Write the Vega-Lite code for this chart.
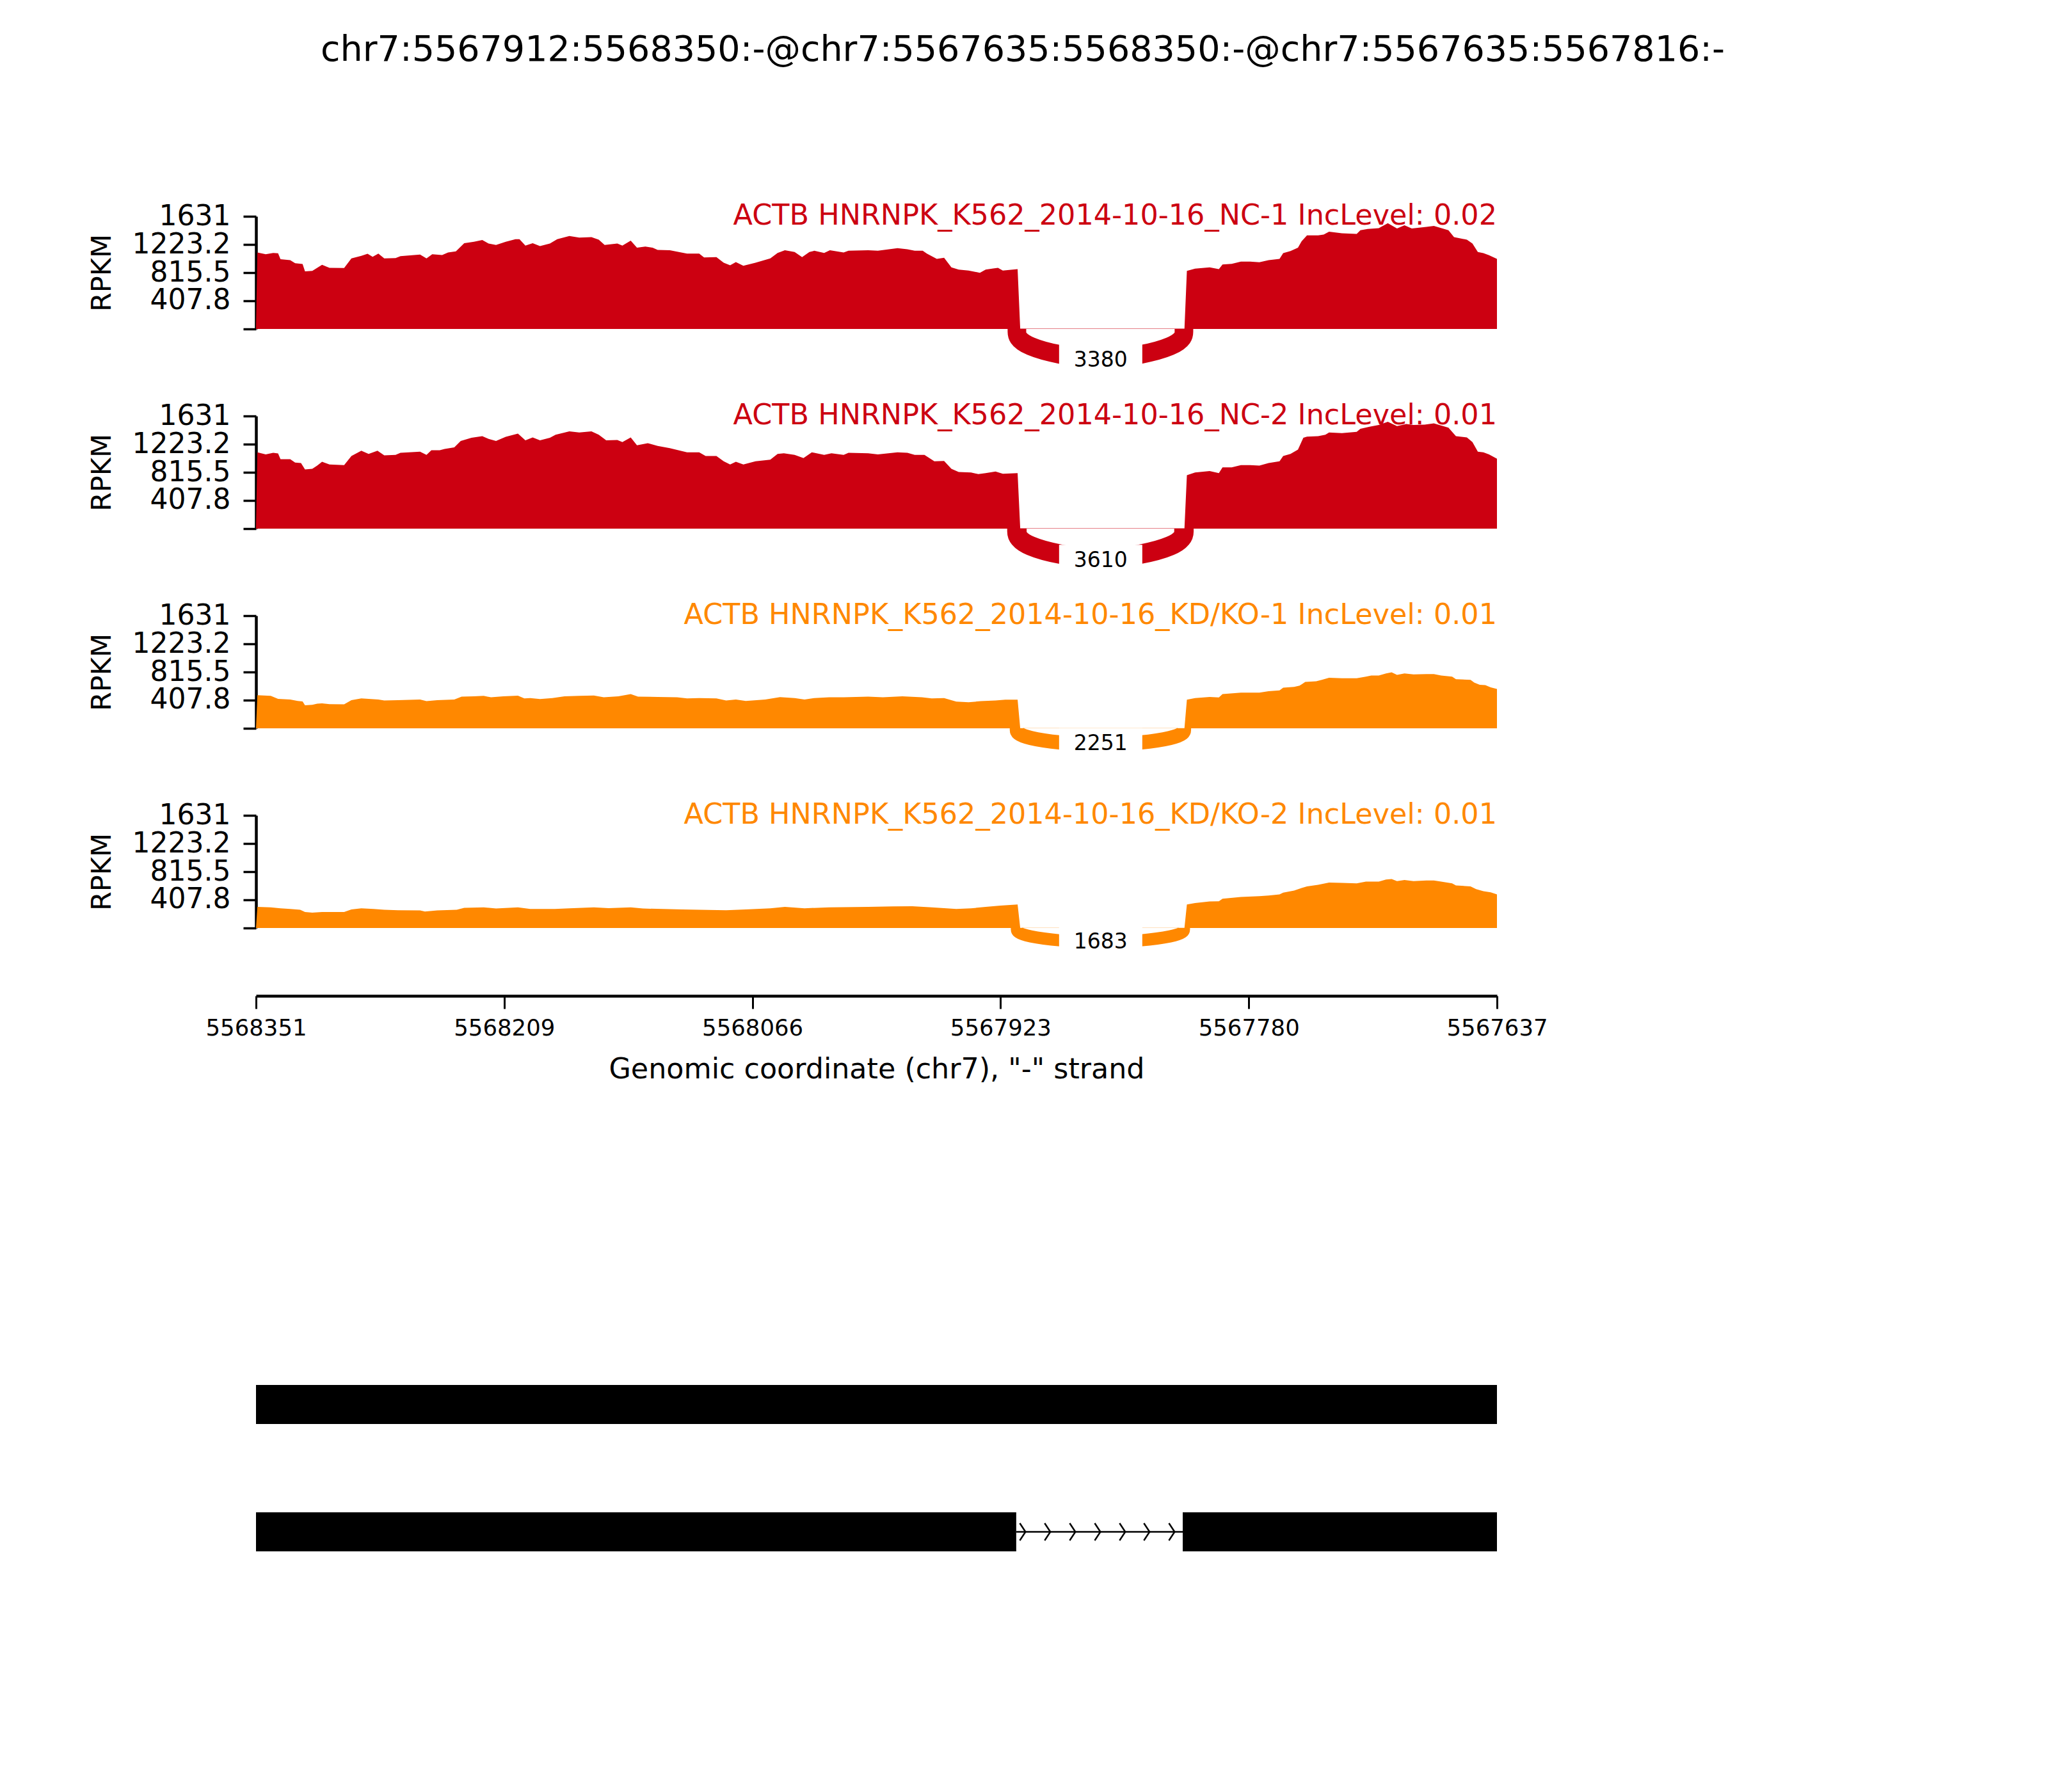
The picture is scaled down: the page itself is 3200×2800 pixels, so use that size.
{
 "$schema": "https://vega.github.io/schema/vega-lite/v6.json",
 "padding": {"left": 138, "top": 51, "right": 5, "bottom": 5},
 "background": "white",
 "title": {"text": "chr7:5567912:5568350:-@chr7:5567635:5568350:-@chr7:5567635:5567816:-", "fontSize": 55.5, "fontWeight": "normal", "color": "black", "anchor": "middle", "dx": 320, "offset": 208},
 "config": {"font": "DejaVu Sans", "view": {"stroke": null}, "axis": {"grid": false}},
 "spacing": 136,
 "bounds": "flush",
 "resolve": {"scale": {"x": "independent", "y": "independent", "strokeWidth": "independent"}},
 "datasets": {
  "cov": [
   {"s":"NC-1","pos":5568351.0,"v":0},{"s":"NC-1","pos":5568350.2,"v":1108},{"s":"NC-1","pos":5568345.4,"v":1083},{"s":"NC-1","pos":5568341.1,"v":1101},{"s":"NC-1","pos":5568338.3,"v":1095},{"s":"NC-1","pos":5568336.9,"v":1009},{"s":"NC-1","pos":5568331.3,"v":996},{"s":"NC-1","pos":5568328.5,"v":953},{"s":"NC-1","pos":5568324.2,"v":940},{"s":"NC-1","pos":5568322.8,"v":835},{"s":"NC-1","pos":5568318.6,"v":841},{"s":"NC-1","pos":5568315.8,"v":885},{"s":"NC-1","pos":5568313.0,"v":928},{"s":"NC-1","pos":5568308.7,"v":885},{"s":"NC-1","pos":5568300.3,"v":882},{"s":"NC-1","pos":5568296.1,"v":1021},{"s":"NC-1","pos":5568290.4,"v":1058},{"s":"NC-1","pos":5568286.8,"v":1089},{"s":"NC-1","pos":5568283.9,"v":1046},{"s":"NC-1","pos":5568280.6,"v":1092},{"s":"NC-1","pos":5568277.2,"v":1021},{"s":"NC-1","pos":5568270.7,"v":1027},{"s":"NC-1","pos":5568267.9,"v":1055},{"s":"NC-1","pos":5568256.6,"v":1077},{"s":"NC-1","pos":5568252.9,"v":1021},{"s":"NC-1","pos":5568249.6,"v":1083},{"s":"NC-1","pos":5568243.9,"v":1071},{"s":"NC-1","pos":5568240.5,"v":1108},{"s":"NC-1","pos":5568236.0,"v":1123},{"s":"NC-1","pos":5568231.2,"v":1241},{"s":"NC-1","pos":5568225.6,"v":1262},{"s":"NC-1","pos":5568220.8,"v":1287},{"s":"NC-1","pos":5568217.2,"v":1238},{"s":"NC-1","pos":5568212.9,"v":1216},{"s":"NC-1","pos":5568207.3,"v":1262},{"s":"NC-1","pos":5568201.7,"v":1300},{"s":"NC-1","pos":5568199.4,"v":1300},{"s":"NC-1","pos":5568196.0,"v":1207},{"s":"NC-1","pos":5568191.8,"v":1241},{"s":"NC-1","pos":5568187.6,"v":1200},{"s":"NC-1","pos":5568181.9,"v":1238},{"s":"NC-1","pos":5568177.7,"v":1300},{"s":"NC-1","pos":5568170.7,"v":1346},{"s":"NC-1","pos":5568165.0,"v":1324},{"s":"NC-1","pos":5568158.0,"v":1330},{"s":"NC-1","pos":5568153.8,"v":1293},{"s":"NC-1","pos":5568150.4,"v":1216},{"s":"NC-1","pos":5568143.1,"v":1238},{"s":"NC-1","pos":5568140.2,"v":1207},{"s":"NC-1","pos":5568135.4,"v":1278},{"s":"NC-1","pos":5568131.8,"v":1176},{"s":"NC-1","pos":5568127.0,"v":1194},{"s":"NC-1","pos":5568122.8,"v":1176},{"s":"NC-1","pos":5568119.9,"v":1145},{"s":"NC-1","pos":5568112.9,"v":1139},{"s":"NC-1","pos":5568103.0,"v":1092},{"s":"NC-1","pos":5568096.0,"v":1092},{"s":"NC-1","pos":5568093.2,"v":1036},{"s":"NC-1","pos":5568086.1,"v":1040},{"s":"NC-1","pos":5568081.9,"v":959},{"s":"NC-1","pos":5568078.2,"v":922},{"s":"NC-1","pos":5568074.9,"v":968},{"s":"NC-1","pos":5568070.6,"v":916},{"s":"NC-1","pos":5568063.6,"v":959},{"s":"NC-1","pos":5568055.1,"v":1021},{"s":"NC-1","pos":5568050.9,"v":1101},{"s":"NC-1","pos":5568046.7,"v":1139},{"s":"NC-1","pos":5568041.1,"v":1114},{"s":"NC-1","pos":5568036.8,"v":1040},{"s":"NC-1","pos":5568032.6,"v":1114},{"s":"NC-1","pos":5568029.8,"v":1132},{"s":"NC-1","pos":5568024.1,"v":1101},{"s":"NC-1","pos":5568020.8,"v":1139},{"s":"NC-1","pos":5568012.9,"v":1108},{"s":"NC-1","pos":5568010.1,"v":1132},{"s":"NC-1","pos":5567998.8,"v":1139},{"s":"NC-1","pos":5567993.2,"v":1132},{"s":"NC-1","pos":5567981.9,"v":1170},{"s":"NC-1","pos":5567976.2,"v":1154},{"s":"NC-1","pos":5567972.0,"v":1132},{"s":"NC-1","pos":5567967.4,"v":1132},{"s":"NC-1","pos":5567965.0,"v":1092},{"s":"NC-1","pos":5567959.3,"v":1015},{"s":"NC-1","pos":5567955.1,"v":1030},{"s":"NC-1","pos":5567950.9,"v":891},{"s":"NC-1","pos":5567946.7,"v":860},{"s":"NC-1","pos":5567941.0,"v":845},{"s":"NC-1","pos":5567934.5,"v":814},{"s":"NC-1","pos":5567931.2,"v":860},{"s":"NC-1","pos":5567926.9,"v":876},{"s":"NC-1","pos":5567924.1,"v":885},{"s":"NC-1","pos":5567921.3,"v":845},{"s":"NC-1","pos":5567912.8,"v":866},{"s":"NC-1","pos":5567911.3,"v":4},{"s":"NC-1","pos":5567866.0,"v":4},{"s":"NC-1","pos":5567816.8,"v":4},{"s":"NC-1","pos":5567815.4,"v":842},{"s":"NC-1","pos":5567810.7,"v":873},{"s":"NC-1","pos":5567802.3,"v":891},{"s":"NC-1","pos":5567797.0,"v":866},{"s":"NC-1","pos":5567794.9,"v":934},{"s":"NC-1","pos":5567789.6,"v":944},{"s":"NC-1","pos":5567784.3,"v":975},{"s":"NC-1","pos":5567779.0,"v":975},{"s":"NC-1","pos":5567773.7,"v":965},{"s":"NC-1","pos":5567768.4,"v":996},{"s":"NC-1","pos":5567762.1,"v":1015},{"s":"NC-1","pos":5567760.0,"v":1098},{"s":"NC-1","pos":5567755.8,"v":1129},{"s":"NC-1","pos":5567751.5,"v":1176},{"s":"NC-1","pos":5567749.4,"v":1269},{"s":"NC-1","pos":5567746.3,"v":1355},{"s":"NC-1","pos":5567739.9,"v":1355},{"s":"NC-1","pos":5567736.7,"v":1368},{"s":"NC-1","pos":5567733.6,"v":1408},{"s":"NC-1","pos":5567726.2,"v":1386},{"s":"NC-1","pos":5567717.7,"v":1377},{"s":"NC-1","pos":5567715.6,"v":1429},{"s":"NC-1","pos":5567711.4,"v":1448},{"s":"NC-1","pos":5567705.0,"v":1460},{"s":"NC-1","pos":5567699.8,"v":1532},{"s":"NC-1","pos":5567694.5,"v":1454},{"s":"NC-1","pos":5567690.2,"v":1501},{"s":"NC-1","pos":5567686.0,"v":1454},{"s":"NC-1","pos":5567677.6,"v":1479},{"s":"NC-1","pos":5567673.3,"v":1491},{"s":"NC-1","pos":5567664.9,"v":1429},{"s":"NC-1","pos":5567661.7,"v":1330},{"s":"NC-1","pos":5567654.3,"v":1293},{"s":"NC-1","pos":5567651.1,"v":1238},{"s":"NC-1","pos":5567648.0,"v":1114},{"s":"NC-1","pos":5567644.8,"v":1098},{"s":"NC-1","pos":5567641.6,"v":1067},{"s":"NC-1","pos":5567637.0,"v":1015},

   {"s":"NC-2","pos":5568351.0,"v":0},{"s":"NC-2","pos":5568350.2,"v":1105},{"s":"NC-2","pos":5568345.4,"v":1074},{"s":"NC-2","pos":5568341.1,"v":1098},{"s":"NC-2","pos":5568338.3,"v":1090},{"s":"NC-2","pos":5568336.9,"v":1006},{"s":"NC-2","pos":5568331.3,"v":1006},{"s":"NC-2","pos":5568328.5,"v":956},{"s":"NC-2","pos":5568325.1,"v":950},{"s":"NC-2","pos":5568322.8,"v":857},{"s":"NC-2","pos":5568318.6,"v":866},{"s":"NC-2","pos":5568315.8,"v":913},{"s":"NC-2","pos":5568313.0,"v":968},{"s":"NC-2","pos":5568308.7,"v":928},{"s":"NC-2","pos":5568300.3,"v":919},{"s":"NC-2","pos":5568296.1,"v":1052},{"s":"NC-2","pos":5568290.4,"v":1129},{"s":"NC-2","pos":5568286.2,"v":1083},{"s":"NC-2","pos":5568281.1,"v":1129},{"s":"NC-2","pos":5568277.2,"v":1061},{"s":"NC-2","pos":5568270.7,"v":1067},{"s":"NC-2","pos":5568267.9,"v":1098},{"s":"NC-2","pos":5568256.6,"v":1114},{"s":"NC-2","pos":5568252.9,"v":1067},{"s":"NC-2","pos":5568250.1,"v":1135},{"s":"NC-2","pos":5568245.3,"v":1135},{"s":"NC-2","pos":5568242.5,"v":1154},{"s":"NC-2","pos":5568236.9,"v":1176},{"s":"NC-2","pos":5568233.2,"v":1269},{"s":"NC-2","pos":5568227.0,"v":1315},{"s":"NC-2","pos":5568220.8,"v":1340},{"s":"NC-2","pos":5568217.2,"v":1300},{"s":"NC-2","pos":5568212.9,"v":1269},{"s":"NC-2","pos":5568207.3,"v":1330},{"s":"NC-2","pos":5568200.3,"v":1377},{"s":"NC-2","pos":5568196.0,"v":1278},{"s":"NC-2","pos":5568191.8,"v":1321},{"s":"NC-2","pos":5568187.6,"v":1278},{"s":"NC-2","pos":5568181.9,"v":1315},{"s":"NC-2","pos":5568178.6,"v":1361},{"s":"NC-2","pos":5568170.7,"v":1408},{"s":"NC-2","pos":5568165.0,"v":1392},{"s":"NC-2","pos":5568158.0,"v":1408},{"s":"NC-2","pos":5568153.8,"v":1361},{"s":"NC-2","pos":5568149.5,"v":1278},{"s":"NC-2","pos":5568143.1,"v":1284},{"s":"NC-2","pos":5568140.2,"v":1253},{"s":"NC-2","pos":5568135.4,"v":1321},{"s":"NC-2","pos":5568131.8,"v":1207},{"s":"NC-2","pos":5568125.6,"v":1238},{"s":"NC-2","pos":5568119.9,"v":1197},{"s":"NC-2","pos":5568112.9,"v":1166},{"s":"NC-2","pos":5568103.0,"v":1105},{"s":"NC-2","pos":5568096.0,"v":1105},{"s":"NC-2","pos":5568092.3,"v":1052},{"s":"NC-2","pos":5568086.1,"v":1052},{"s":"NC-2","pos":5568081.9,"v":975},{"s":"NC-2","pos":5568078.2,"v":928},{"s":"NC-2","pos":5568074.9,"v":968},{"s":"NC-2","pos":5568070.6,"v":928},{"s":"NC-2","pos":5568063.6,"v":975},{"s":"NC-2","pos":5568055.1,"v":999},{"s":"NC-2","pos":5568050.9,"v":1083},{"s":"NC-2","pos":5568047.3,"v":1092},{"s":"NC-2","pos":5568041.1,"v":1067},{"s":"NC-2","pos":5568036.0,"v":1021},{"s":"NC-2","pos":5568031.2,"v":1105},{"s":"NC-2","pos":5568024.1,"v":1067},{"s":"NC-2","pos":5568019.9,"v":1092},{"s":"NC-2","pos":5568012.9,"v":1067},{"s":"NC-2","pos":5568010.1,"v":1098},{"s":"NC-2","pos":5567998.8,"v":1092},{"s":"NC-2","pos":5567993.2,"v":1074},{"s":"NC-2","pos":5567981.9,"v":1105},{"s":"NC-2","pos":5567976.2,"v":1098},{"s":"NC-2","pos":5567972.0,"v":1067},{"s":"NC-2","pos":5567966.4,"v":1067},{"s":"NC-2","pos":5567960.7,"v":975},{"s":"NC-2","pos":5567955.1,"v":981},{"s":"NC-2","pos":5567950.9,"v":866},{"s":"NC-2","pos":5567946.7,"v":820},{"s":"NC-2","pos":5567939.6,"v":814},{"s":"NC-2","pos":5567935.4,"v":789},{"s":"NC-2","pos":5567931.2,"v":804},{"s":"NC-2","pos":5567925.5,"v":826},{"s":"NC-2","pos":5567921.3,"v":795},{"s":"NC-2","pos":5567912.8,"v":804},{"s":"NC-2","pos":5567911.3,"v":4},{"s":"NC-2","pos":5567866.0,"v":4},{"s":"NC-2","pos":5567816.8,"v":4},{"s":"NC-2","pos":5567815.4,"v":773},{"s":"NC-2","pos":5567810.7,"v":814},{"s":"NC-2","pos":5567802.3,"v":835},{"s":"NC-2","pos":5567797.0,"v":804},{"s":"NC-2","pos":5567794.9,"v":888},{"s":"NC-2","pos":5567789.6,"v":888},{"s":"NC-2","pos":5567784.3,"v":919},{"s":"NC-2","pos":5567779.0,"v":919},{"s":"NC-2","pos":5567773.7,"v":913},{"s":"NC-2","pos":5567768.4,"v":950},{"s":"NC-2","pos":5567762.1,"v":975},{"s":"NC-2","pos":5567760.0,"v":1052},{"s":"NC-2","pos":5567755.8,"v":1083},{"s":"NC-2","pos":5567751.5,"v":1145},{"s":"NC-2","pos":5567748.4,"v":1315},{"s":"NC-2","pos":5567746.3,"v":1331},{"s":"NC-2","pos":5567739.9,"v":1340},{"s":"NC-2","pos":5567735.7,"v":1361},{"s":"NC-2","pos":5567733.6,"v":1392},{"s":"NC-2","pos":5567726.2,"v":1383},{"s":"NC-2","pos":5567717.7,"v":1402},{"s":"NC-2","pos":5567715.6,"v":1445},{"s":"NC-2","pos":5567710.3,"v":1476},{"s":"NC-2","pos":5567705.0,"v":1501},{"s":"NC-2","pos":5567699.8,"v":1547},{"s":"NC-2","pos":5567694.5,"v":1485},{"s":"NC-2","pos":5567689.2,"v":1516},{"s":"NC-2","pos":5567685.0,"v":1501},{"s":"NC-2","pos":5567678.6,"v":1507},{"s":"NC-2","pos":5567673.3,"v":1525},{"s":"NC-2","pos":5567664.9,"v":1463},{"s":"NC-2","pos":5567660.6,"v":1340},{"s":"NC-2","pos":5567654.3,"v":1321},{"s":"NC-2","pos":5567651.1,"v":1253},{"s":"NC-2","pos":5567648.0,"v":1114},{"s":"NC-2","pos":5567644.8,"v":1105},{"s":"NC-2","pos":5567641.6,"v":1074},{"s":"NC-2","pos":5567637.0,"v":1012},

   {"s":"KD-1","pos":5568351.0,"v":0},{"s":"KD-1","pos":5568350.2,"v":480},{"s":"KD-1","pos":5568342.5,"v":470},{"s":"KD-1","pos":5568338.3,"v":427},{"s":"KD-1","pos":5568331.3,"v":418},{"s":"KD-1","pos":5568327.0,"v":396},{"s":"KD-1","pos":5568324.2,"v":390},{"s":"KD-1","pos":5568322.8,"v":334},{"s":"KD-1","pos":5568318.6,"v":340},{"s":"KD-1","pos":5568315.8,"v":356},{"s":"KD-1","pos":5568313.0,"v":362},{"s":"KD-1","pos":5568308.7,"v":350},{"s":"KD-1","pos":5568300.3,"v":347},{"s":"KD-1","pos":5568296.1,"v":408},{"s":"KD-1","pos":5568290.4,"v":433},{"s":"KD-1","pos":5568284.8,"v":424},{"s":"KD-1","pos":5568280.6,"v":418},{"s":"KD-1","pos":5568277.2,"v":402},{"s":"KD-1","pos":5568269.3,"v":408},{"s":"KD-1","pos":5568256.6,"v":418},{"s":"KD-1","pos":5568252.9,"v":393},{"s":"KD-1","pos":5568246.7,"v":408},{"s":"KD-1","pos":5568236.9,"v":418},{"s":"KD-1","pos":5568232.7,"v":458},{"s":"KD-1","pos":5568225.6,"v":464},{"s":"KD-1","pos":5568220.0,"v":470},{"s":"KD-1","pos":5568215.8,"v":449},{"s":"KD-1","pos":5568208.7,"v":464},{"s":"KD-1","pos":5568200.3,"v":473},{"s":"KD-1","pos":5568196.6,"v":433},{"s":"KD-1","pos":5568193.2,"v":439},{"s":"KD-1","pos":5568187.6,"v":424},{"s":"KD-1","pos":5568180.5,"v":439},{"s":"KD-1","pos":5568173.5,"v":464},{"s":"KD-1","pos":5568165.0,"v":470},{"s":"KD-1","pos":5568156.6,"v":476},{"s":"KD-1","pos":5568150.9,"v":449},{"s":"KD-1","pos":5568142.5,"v":464},{"s":"KD-1","pos":5568135.4,"v":495},{"s":"KD-1","pos":5568131.2,"v":458},{"s":"KD-1","pos":5568119.9,"v":455},{"s":"KD-1","pos":5568108.7,"v":449},{"s":"KD-1","pos":5568103.0,"v":433},{"s":"KD-1","pos":5568096.0,"v":439},{"s":"KD-1","pos":5568086.1,"v":433},{"s":"KD-1","pos":5568080.5,"v":402},{"s":"KD-1","pos":5568074.9,"v":418},{"s":"KD-1","pos":5568069.2,"v":396},{"s":"KD-1","pos":5568058.0,"v":418},{"s":"KD-1","pos":5568049.5,"v":452},{"s":"KD-1","pos":5568041.1,"v":439},{"s":"KD-1","pos":5568035.4,"v":418},{"s":"KD-1","pos":5568029.8,"v":439},{"s":"KD-1","pos":5568021.3,"v":449},{"s":"KD-1","pos":5568012.9,"v":449},{"s":"KD-1","pos":5567998.8,"v":458},{"s":"KD-1","pos":5567990.3,"v":449},{"s":"KD-1","pos":5567979.1,"v":464},{"s":"KD-1","pos":5567967.8,"v":449},{"s":"KD-1","pos":5567962.2,"v":433},{"s":"KD-1","pos":5567955.1,"v":439},{"s":"KD-1","pos":5567948.1,"v":387},{"s":"KD-1","pos":5567941.0,"v":377},{"s":"KD-1","pos":5567934.0,"v":393},{"s":"KD-1","pos":5567925.5,"v":402},{"s":"KD-1","pos":5567919.9,"v":415},{"s":"KD-1","pos":5567912.8,"v":415},{"s":"KD-1","pos":5567911.3,"v":3},{"s":"KD-1","pos":5567866.0,"v":3},{"s":"KD-1","pos":5567816.8,"v":3},{"s":"KD-1","pos":5567815.4,"v":415},{"s":"KD-1","pos":5567810.7,"v":439},{"s":"KD-1","pos":5567802.3,"v":455},{"s":"KD-1","pos":5567797.0,"v":446},{"s":"KD-1","pos":5567794.9,"v":495},{"s":"KD-1","pos":5567784.3,"v":517},{"s":"KD-1","pos":5567776.9,"v":517},{"s":"KD-1","pos":5567773.7,"v":517},{"s":"KD-1","pos":5567768.4,"v":538},{"s":"KD-1","pos":5567762.1,"v":548},{"s":"KD-1","pos":5567760.0,"v":588},{"s":"KD-1","pos":5567753.7,"v":600},{"s":"KD-1","pos":5567750.5,"v":619},{"s":"KD-1","pos":5567747.3,"v":671},{"s":"KD-1","pos":5567741.0,"v":681},{"s":"KD-1","pos":5567737.8,"v":702},{"s":"KD-1","pos":5567733.6,"v":733},{"s":"KD-1","pos":5567726.2,"v":724},{"s":"KD-1","pos":5567717.7,"v":724},{"s":"KD-1","pos":5567712.4,"v":749},{"s":"KD-1","pos":5567709.3,"v":764},{"s":"KD-1","pos":5567705.0,"v":764},{"s":"KD-1","pos":5567700.8,"v":795},{"s":"KD-1","pos":5567697.6,"v":811},{"s":"KD-1","pos":5567694.5,"v":774},{"s":"KD-1","pos":5567690.2,"v":795},{"s":"KD-1","pos":5567685.0,"v":780},{"s":"KD-1","pos":5567677.6,"v":786},{"s":"KD-1","pos":5567673.3,"v":786},{"s":"KD-1","pos":5567669.1,"v":764},{"s":"KD-1","pos":5567662.8,"v":749},{"s":"KD-1","pos":5567660.6,"v":712},{"s":"KD-1","pos":5567652.2,"v":702},{"s":"KD-1","pos":5567650.1,"v":662},{"s":"KD-1","pos":5567646.9,"v":631},{"s":"KD-1","pos":5567643.7,"v":625},{"s":"KD-1","pos":5567640.6,"v":594},{"s":"KD-1","pos":5567637.0,"v":569},

   {"s":"KD-2","pos":5568351.0,"v":0},{"s":"KD-2","pos":5568350.2,"v":306},{"s":"KD-2","pos":5568342.5,"v":300},{"s":"KD-2","pos":5568336.9,"v":285},{"s":"KD-2","pos":5568331.3,"v":275},{"s":"KD-2","pos":5568325.6,"v":263},{"s":"KD-2","pos":5568322.8,"v":232},{"s":"KD-2","pos":5568318.6,"v":223},{"s":"KD-2","pos":5568313.0,"v":232},{"s":"KD-2","pos":5568308.7,"v":232},{"s":"KD-2","pos":5568300.3,"v":232},{"s":"KD-2","pos":5568296.1,"v":269},{"s":"KD-2","pos":5568290.4,"v":285},{"s":"KD-2","pos":5568283.4,"v":275},{"s":"KD-2","pos":5568277.2,"v":263},{"s":"KD-2","pos":5568269.3,"v":257},{"s":"KD-2","pos":5568256.6,"v":254},{"s":"KD-2","pos":5568253.8,"v":238},{"s":"KD-2","pos":5568246.7,"v":254},{"s":"KD-2","pos":5568235.5,"v":263},{"s":"KD-2","pos":5568231.2,"v":291},{"s":"KD-2","pos":5568220.0,"v":300},{"s":"KD-2","pos":5568212.9,"v":282},{"s":"KD-2","pos":5568200.3,"v":300},{"s":"KD-2","pos":5568193.2,"v":275},{"s":"KD-2","pos":5568179.1,"v":275},{"s":"KD-2","pos":5568170.7,"v":285},{"s":"KD-2","pos":5568156.6,"v":300},{"s":"KD-2","pos":5568148.1,"v":288},{"s":"KD-2","pos":5568135.4,"v":300},{"s":"KD-2","pos":5568128.4,"v":282},{"s":"KD-2","pos":5568105.9,"v":269},{"s":"KD-2","pos":5568096.0,"v":263},{"s":"KD-2","pos":5568080.5,"v":257},{"s":"KD-2","pos":5568069.2,"v":269},{"s":"KD-2","pos":5568055.1,"v":285},{"s":"KD-2","pos":5568046.7,"v":306},{"s":"KD-2","pos":5568035.4,"v":285},{"s":"KD-2","pos":5568021.3,"v":300},{"s":"KD-2","pos":5567998.8,"v":306},{"s":"KD-2","pos":5567984.7,"v":312},{"s":"KD-2","pos":5567973.4,"v":316},{"s":"KD-2","pos":5567962.2,"v":300},{"s":"KD-2","pos":5567948.1,"v":275},{"s":"KD-2","pos":5567939.6,"v":285},{"s":"KD-2","pos":5567931.2,"v":306},{"s":"KD-2","pos":5567922.7,"v":325},{"s":"KD-2","pos":5567912.8,"v":340},{"s":"KD-2","pos":5567911.3,"v":3},{"s":"KD-2","pos":5567866.0,"v":3},{"s":"KD-2","pos":5567816.8,"v":3},{"s":"KD-2","pos":5567815.4,"v":340},{"s":"KD-2","pos":5567810.7,"v":362},{"s":"KD-2","pos":5567802.3,"v":384},{"s":"KD-2","pos":5567797.0,"v":387},{"s":"KD-2","pos":5567794.9,"v":424},{"s":"KD-2","pos":5567784.3,"v":449},{"s":"KD-2","pos":5567773.7,"v":461},{"s":"KD-2","pos":5567768.4,"v":470},{"s":"KD-2","pos":5567762.1,"v":486},{"s":"KD-2","pos":5567760.0,"v":511},{"s":"KD-2","pos":5567753.7,"v":542},{"s":"KD-2","pos":5567749.4,"v":579},{"s":"KD-2","pos":5567746.3,"v":603},{"s":"KD-2","pos":5567739.9,"v":625},{"s":"KD-2","pos":5567733.6,"v":659},{"s":"KD-2","pos":5567726.2,"v":653},{"s":"KD-2","pos":5567717.7,"v":647},{"s":"KD-2","pos":5567712.4,"v":671},{"s":"KD-2","pos":5567705.0,"v":671},{"s":"KD-2","pos":5567700.8,"v":702},{"s":"KD-2","pos":5567697.6,"v":709},{"s":"KD-2","pos":5567694.5,"v":678},{"s":"KD-2","pos":5567690.2,"v":696},{"s":"KD-2","pos":5567685.0,"v":678},{"s":"KD-2","pos":5567677.6,"v":687},{"s":"KD-2","pos":5567673.3,"v":687},{"s":"KD-2","pos":5567669.1,"v":671},{"s":"KD-2","pos":5567662.8,"v":647},{"s":"KD-2","pos":5567660.6,"v":616},{"s":"KD-2","pos":5567652.2,"v":603},{"s":"KD-2","pos":5567649.0,"v":563},{"s":"KD-2","pos":5567644.8,"v":532},{"s":"KD-2","pos":5567640.6,"v":517},{"s":"KD-2","pos":5567637.0,"v":486}
  ],
  "arcs": [
   {"s":"NC-1","k":0,"pos":5567913.2,"v":0,"n":3380},{"s":"NC-1","k":1,"pos":5567913.2,"v":-247,"n":3380},{"s":"NC-1","k":2,"pos":5567865.2,"v":-513,"n":3380},{"s":"NC-1","k":3,"pos":5567817.1,"v":-247,"n":3380},{"s":"NC-1","k":4,"pos":5567817.1,"v":0,"n":3380},
   {"s":"NC-2","k":0,"pos":5567913.2,"v":0,"n":3610},{"s":"NC-2","k":1,"pos":5567913.2,"v":-247,"n":3610},{"s":"NC-2","k":2,"pos":5567865.2,"v":-513,"n":3610},{"s":"NC-2","k":3,"pos":5567817.1,"v":-247,"n":3610},{"s":"NC-2","k":4,"pos":5567817.1,"v":0,"n":3610},
   {"s":"KD-1","k":0,"pos":5567913.2,"v":0,"n":2251},{"s":"KD-1","k":1,"pos":5567913.2,"v":-138,"n":2251},{"s":"KD-1","k":2,"pos":5567865.2,"v":-285,"n":2251},{"s":"KD-1","k":3,"pos":5567817.1,"v":-138,"n":2251},{"s":"KD-1","k":4,"pos":5567817.1,"v":0,"n":2251},
   {"s":"KD-2","k":0,"pos":5567913.2,"v":0,"n":1683},{"s":"KD-2","k":1,"pos":5567913.2,"v":-120,"n":1683},{"s":"KD-2","k":2,"pos":5567865.2,"v":-249,"n":1683},{"s":"KD-2","k":3,"pos":5567817.1,"v":-120,"n":1683},{"s":"KD-2","k":4,"pos":5567817.1,"v":0,"n":1683}
  ],
  "jx": [
   {"s":"NC-1","pos":5567865,"v":-451,"n":"3380"},
   {"s":"NC-2","pos":5567865,"v":-463,"n":"3610"},
   {"s":"KD-1","pos":5567865,"v":-226,"n":"2251"},
   {"s":"KD-2","pos":5567865,"v":-201,"n":"1683"}
  ],
  "tx": [
   {"t":1,"start":5568351,"end":5567637,"kind":"exon"},
   {"t":2,"start":5568351,"end":5567913.6,"kind":"exon"},
   {"t":2,"start":5567817.8,"end":5567637,"kind":"exon"},
   {"t":2,"start":5567913.6,"end":5567817.8,"kind":"intron"}
  ],
  "chev": [
   {"t":2,"pos":5567909.9},{"t":2,"pos":5567895.6},{"t":2,"pos":5567881.2},{"t":2,"pos":5567866.8},{"t":2,"pos":5567852.5},{"t":2,"pos":5567838.5},{"t":2,"pos":5567824.1}
  ]
 },
 "vconcat": [
  {
   "title": {"text": "ACTB HNRNPK_K562_2014-10-16_NC-1 IncLevel: 0.02", "anchor": "end", "frame": "group", "orient": "top", "offset": -79, "baseline": "alphabetic", "fontSize": 44.5, "fontWeight": "normal", "color": "#CC0011"},
   "width": 1939, "height": 176,
   "encoding": {
    "x": {"field": "pos", "type": "quantitative", "scale": {"domain": [5567637, 5568351], "reverse": true, "nice": false, "zero": false}, "axis": null},
    "y": {"field": "v", "type": "quantitative", "scale": {"domain": [0, 1631], "nice": false, "zero": false}, "axis": {"title": "RPKM", "values": [0, 407.8, 815.5, 1223.2, 1631], "labelExpr": "datum.value == 0 ? '' : datum.value == 1631 ? '1631' : format(datum.value, '.1f')", "labelOverlap": false, "labelFontSize": 44, "labelColor": "black", "labelPadding": 20, "tickSize": 20, "tickWidth": 3.5, "tickColor": "black", "domainWidth": 4.5, "domainColor": "black", "titleFontSize": 43, "titleFontWeight": "normal", "titleColor": "black", "titlePadding": 25, "grid": false}}
   },
   "layer": [
    {"data": {"name": "cov"}, "transform": [{"filter": "datum.s === 'NC-1'"}], "mark": {"type": "area", "color": "#CC0011"}},
    {"data": {"name": "arcs"}, "transform": [{"filter": "datum.s === 'NC-1'"}], "mark": {"type": "line", "interpolate": "basis", "color": "#CC0011", "strokeCap": "butt"}, "encoding": {"order": {"field": "k", "type": "quantitative"}, "strokeWidth": {"field": "n", "type": "quantitative", "scale": {"domain": [1683, 3610], "range": [19, 30.4], "zero": false}, "legend": null}}},
    {"data": {"name": "jx"}, "transform": [{"filter": "datum.s === 'NC-1'"}], "mark": {"type": "point", "shape": "M-1,-0.38H1V0.38H-1Z", "size": 16900, "filled": true, "color": "white", "opacity": 1, "strokeWidth": 0}},
    {"data": {"name": "jx"}, "transform": [{"filter": "datum.s === 'NC-1'"}], "mark": {"type": "text", "fontSize": 33, "color": "black", "baseline": "middle", "align": "center"}, "encoding": {"text": {"field": "n", "type": "nominal"}}}
   ]
  },
  {
   "title": {"text": "ACTB HNRNPK_K562_2014-10-16_NC-2 IncLevel: 0.01", "anchor": "end", "frame": "group", "orient": "top", "offset": -79, "baseline": "alphabetic", "fontSize": 44.5, "fontWeight": "normal", "color": "#CC0011"},
   "width": 1939, "height": 176,
   "encoding": {
    "x": {"field": "pos", "type": "quantitative", "scale": {"domain": [5567637, 5568351], "reverse": true, "nice": false, "zero": false}, "axis": null},
    "y": {"field": "v", "type": "quantitative", "scale": {"domain": [0, 1631], "nice": false, "zero": false}, "axis": {"title": "RPKM", "values": [0, 407.8, 815.5, 1223.2, 1631], "labelExpr": "datum.value == 0 ? '' : datum.value == 1631 ? '1631' : format(datum.value, '.1f')", "labelOverlap": false, "labelFontSize": 44, "labelColor": "black", "labelPadding": 20, "tickSize": 20, "tickWidth": 3.5, "tickColor": "black", "domainWidth": 4.5, "domainColor": "black", "titleFontSize": 43, "titleFontWeight": "normal", "titleColor": "black", "titlePadding": 25, "grid": false}}
   },
   "layer": [
    {"data": {"name": "cov"}, "transform": [{"filter": "datum.s === 'NC-2'"}], "mark": {"type": "area", "color": "#CC0011"}},
    {"data": {"name": "arcs"}, "transform": [{"filter": "datum.s === 'NC-2'"}], "mark": {"type": "line", "interpolate": "basis", "color": "#CC0011", "strokeCap": "butt"}, "encoding": {"order": {"field": "k", "type": "quantitative"}, "strokeWidth": {"field": "n", "type": "quantitative", "scale": {"domain": [1683, 3610], "range": [19, 30.4], "zero": false}, "legend": null}}},
    {"data": {"name": "jx"}, "transform": [{"filter": "datum.s === 'NC-2'"}], "mark": {"type": "point", "shape": "M-1,-0.38H1V0.38H-1Z", "size": 16900, "filled": true, "color": "white", "opacity": 1, "strokeWidth": 0}},
    {"data": {"name": "jx"}, "transform": [{"filter": "datum.s === 'NC-2'"}], "mark": {"type": "text", "fontSize": 33, "color": "black", "baseline": "middle", "align": "center"}, "encoding": {"text": {"field": "n", "type": "nominal"}}}
   ]
  },
  {
   "title": {"text": "ACTB HNRNPK_K562_2014-10-16_KD/KO-1 IncLevel: 0.01", "anchor": "end", "frame": "group", "orient": "top", "offset": -79, "baseline": "alphabetic", "fontSize": 44.5, "fontWeight": "normal", "color": "#FF8800"},
   "width": 1939, "height": 176,
   "encoding": {
    "x": {"field": "pos", "type": "quantitative", "scale": {"domain": [5567637, 5568351], "reverse": true, "nice": false, "zero": false}, "axis": null},
    "y": {"field": "v", "type": "quantitative", "scale": {"domain": [0, 1631], "nice": false, "zero": false}, "axis": {"title": "RPKM", "values": [0, 407.8, 815.5, 1223.2, 1631], "labelExpr": "datum.value == 0 ? '' : datum.value == 1631 ? '1631' : format(datum.value, '.1f')", "labelOverlap": false, "labelFontSize": 44, "labelColor": "black", "labelPadding": 20, "tickSize": 20, "tickWidth": 3.5, "tickColor": "black", "domainWidth": 4.5, "domainColor": "black", "titleFontSize": 43, "titleFontWeight": "normal", "titleColor": "black", "titlePadding": 25, "grid": false}}
   },
   "layer": [
    {"data": {"name": "cov"}, "transform": [{"filter": "datum.s === 'KD-1'"}], "mark": {"type": "area", "color": "#FF8800"}},
    {"data": {"name": "arcs"}, "transform": [{"filter": "datum.s === 'KD-1'"}], "mark": {"type": "line", "interpolate": "basis", "color": "#FF8800", "strokeCap": "butt"}, "encoding": {"order": {"field": "k", "type": "quantitative"}, "strokeWidth": {"field": "n", "type": "quantitative", "scale": {"domain": [1683, 3610], "range": [19, 30.4], "zero": false}, "legend": null}}},
    {"data": {"name": "jx"}, "transform": [{"filter": "datum.s === 'KD-1'"}], "mark": {"type": "point", "shape": "M-1,-0.38H1V0.38H-1Z", "size": 16900, "filled": true, "color": "white", "opacity": 1, "strokeWidth": 0}},
    {"data": {"name": "jx"}, "transform": [{"filter": "datum.s === 'KD-1'"}], "mark": {"type": "text", "fontSize": 33, "color": "black", "baseline": "middle", "align": "center"}, "encoding": {"text": {"field": "n", "type": "nominal"}}}
   ]
  },
  {
   "title": {"text": "ACTB HNRNPK_K562_2014-10-16_KD/KO-2 IncLevel: 0.01", "anchor": "end", "frame": "group", "orient": "top", "offset": -79, "baseline": "alphabetic", "fontSize": 44.5, "fontWeight": "normal", "color": "#FF8800"},
   "width": 1939, "height": 176,
   "encoding": {
    "x": {"field": "pos", "type": "quantitative", "scale": {"domain": [5567637, 5568351], "reverse": true, "nice": false, "zero": false}, "axis": {"values": [5568351, 5568208.2, 5568065.4, 5567922.6, 5567779.8, 5567637], "labelExpr": "format(ceil(datum.value), 'd')", "labelFlush": false, "labelOverlap": false, "labelFontSize": 35.5, "labelColor": "black", "labelPadding": 13, "tickSize": 20, "tickWidth": 3, "tickColor": "black", "domainWidth": 4.5, "domainColor": "black", "offset": 106, "title": "Genomic coordinate (chr7), \"-\" strand", "titleFontSize": 44.4, "titleFontWeight": "normal", "titleColor": "black", "titlePadding": 25, "grid": false}},
    "y": {"field": "v", "type": "quantitative", "scale": {"domain": [0, 1631], "nice": false, "zero": false}, "axis": {"title": "RPKM", "values": [0, 407.8, 815.5, 1223.2, 1631], "labelExpr": "datum.value == 0 ? '' : datum.value == 1631 ? '1631' : format(datum.value, '.1f')", "labelOverlap": false, "labelFontSize": 44, "labelColor": "black", "labelPadding": 20, "tickSize": 20, "tickWidth": 3.5, "tickColor": "black", "domainWidth": 4.5, "domainColor": "black", "titleFontSize": 43, "titleFontWeight": "normal", "titleColor": "black", "titlePadding": 25, "grid": false}}
   },
   "layer": [
    {"data": {"name": "cov"}, "transform": [{"filter": "datum.s === 'KD-2'"}], "mark": {"type": "area", "color": "#FF8800"}},
    {"data": {"name": "arcs"}, "transform": [{"filter": "datum.s === 'KD-2'"}], "mark": {"type": "line", "interpolate": "basis", "color": "#FF8800", "strokeCap": "butt"}, "encoding": {"order": {"field": "k", "type": "quantitative"}, "strokeWidth": {"field": "n", "type": "quantitative", "scale": {"domain": [1683, 3610], "range": [19, 30.4], "zero": false}, "legend": null}}},
    {"data": {"name": "jx"}, "transform": [{"filter": "datum.s === 'KD-2'"}], "mark": {"type": "point", "shape": "M-1,-0.38H1V0.38H-1Z", "size": 16900, "filled": true, "color": "white", "opacity": 1, "strokeWidth": 0}},
    {"data": {"name": "jx"}, "transform": [{"filter": "datum.s === 'KD-2'"}], "mark": {"type": "text", "fontSize": 33, "color": "black", "baseline": "middle", "align": "center"}, "encoding": {"text": {"field": "n", "type": "nominal"}}}
   ]
  },
  {
   "width": 1939, "height": 915,
   "layer": [
    {"data": {"name": "tx"}, "transform": [{"filter": "datum.kind === 'exon'"}], "mark": {"type": "rule", "strokeWidth": 61, "color": "black", "strokeCap": "butt"},
     "encoding": {"x": {"field": "start", "type": "quantitative", "scale": {"domain": [5567637, 5568351], "reverse": true, "nice": false, "zero": false}, "axis": null}, "x2": {"field": "end"}, "y": {"field": "t", "type": "quantitative", "scale": {"domain": [-2.058, 2.54], "reverse": true, "nice": false, "zero": false}, "axis": null}}},
    {"data": {"name": "tx"}, "transform": [{"filter": "datum.kind === 'intron'"}], "mark": {"type": "rule", "strokeWidth": 2.5, "color": "black", "strokeCap": "butt"},
     "encoding": {"x": {"field": "start", "type": "quantitative", "scale": {"domain": [5567637, 5568351], "reverse": true, "nice": false, "zero": false}, "axis": null}, "x2": {"field": "end"}, "y": {"field": "t", "type": "quantitative", "scale": {"domain": [-2.058, 2.54], "reverse": true, "nice": false, "zero": false}, "axis": null}}},
    {"data": {"name": "chev"}, "mark": {"type": "point", "shape": "M-0.33,-1L0.33,0L-0.33,1", "size": 729, "filled": false, "color": "black", "strokeWidth": 2.5, "opacity": 1},
     "encoding": {"x": {"field": "pos", "type": "quantitative", "scale": {"domain": [5567637, 5568351], "reverse": true, "nice": false, "zero": false}, "axis": null}, "y": {"field": "t", "type": "quantitative", "scale": {"domain": [-2.058, 2.54], "reverse": true, "nice": false, "zero": false}, "axis": null}}}
   ]
  }
 ]
}
